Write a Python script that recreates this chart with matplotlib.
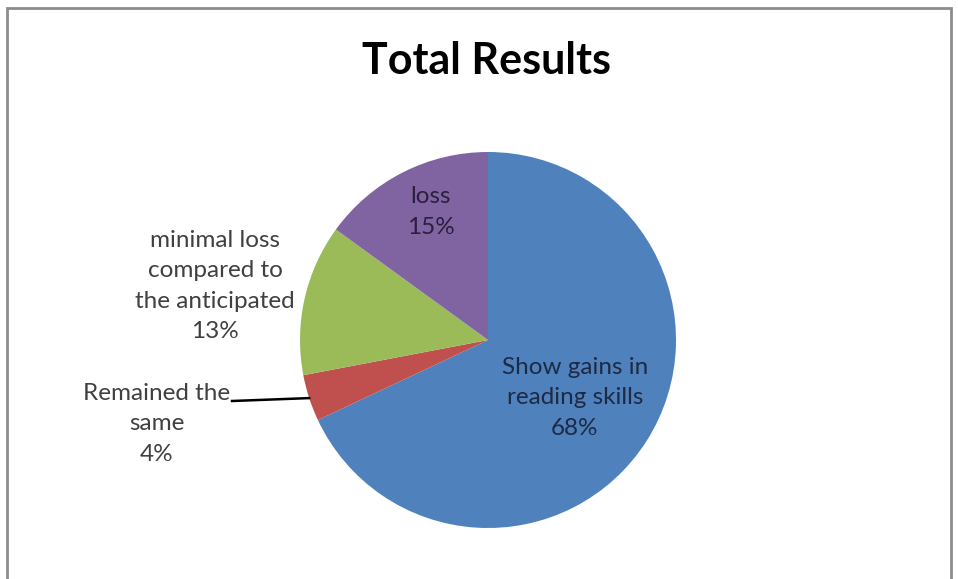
import numpy as np
import matplotlib
matplotlib.use("Agg")
import matplotlib.pyplot as plt
from matplotlib.patches import Rectangle

# data
categories = ["Show gains in\nreading skills", "Remained the\nsame",
              "minimal loss\ncompared to\nthe anticipated", "loss"]
values = [68, 4, 13, 15]
colors = ["#4F81BD", "#C0504D", "#9BBB59", "#8064A2"]

W, H = 958, 579
plt.rcParams['font.family'] = ['Lato', 'DejaVu Sans']

fig = plt.figure(figsize=(W / 100, H / 100), dpi=100)
ax = fig.add_axes([0, 0, 1, 1])

cx, cy, r = 488, H - 340, 188
wedges, _ = ax.pie(values, colors=colors, startangle=90, counterclock=False,
                   center=(cx, cy), radius=r, frame=True,
                   wedgeprops=dict(linewidth=0))
ax.set_xlim(0, W)
ax.set_ylim(0, H)
ax.set_aspect('equal')
ax.axis('off')

# label positions in pixel coords (layout only)
label_pos = [(575, 398), (157, 424), (215, 286), (431, 212)]
label_col = ["#1c2a44", "#404040", "#404040", "#2a1f3d"]
for cat, v, (px, py), c in zip(categories, values, label_pos, label_col):
    ax.text(px, H - py, f"{cat}\n{v}%", ha='center', va='center',
            fontsize=17.5, color=c, linespacing=1.54)

# leader line for the small slice
w = wedges[1]
mid = np.deg2rad((w.theta1 + w.theta2) / 2)
ex, ey = cx + r * np.cos(mid), cy + r * np.sin(mid)
ax.plot([232, ex], [H - 401, ey], color='black', lw=1.8)

ax.text(487, H - 61, "Total Results", ha='center', va='center',
        fontsize=31, fontweight='bold', color='black')

# chart frame
fig.patches.append(Rectangle((7 / W, -0.05), (951 - 7) / W, (H - 8) / H + 0.05,
                             transform=fig.transFigure, fill=False,
                             edgecolor='#8c8c8c', lw=2))

fig.savefig("out.png", dpi=100)
